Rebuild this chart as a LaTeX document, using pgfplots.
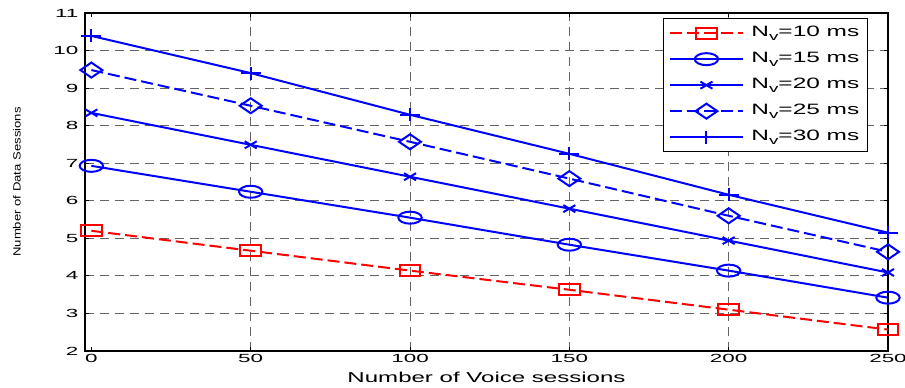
\documentclass[border=0pt]{standalone}
\usepackage{fontspec}
\setmainfont{Liberation Sans}
\usepackage{graphicx}
\usepackage{pgfplots}
\pgfplotsset{compat=1.18}
\usetikzlibrary{calc}
\definecolor{gridgray}{RGB}{100,100,100}
\newcommand{\legtxt}[1]{\hspace{5pt}\scalebox{1.63}[1]{N\raisebox{-0.45ex}{\fontsize{11.5}{11.5}\selectfont v}=#1 ms}}
\begin{document}
\begin{tikzpicture}
\begin{axis}[
  scale only axis, width=803pt, height=338pt,
  xmin=-2, xmax=250, ymin=2, ymax=11,
  xtick={50,100,150,200,250}, ytick={2,3,...,11},
  extra x ticks={0}, extra x tick style={grid=none},
  grid=major,
  major grid style={dash pattern=on 9pt off 6pt, gridgray, line width=0.9pt},
  tick align=inside, tick pos=both, major tick length=4pt,
  every tick/.style={black, line width=0.9pt},
  axis line style={line width=1.2pt},
  clip=false,
  /pgf/number format/assume math mode=true,
  tick label style={font=\fontsize{11.8}{12}\selectfont, xscale=1.9},
  xlabel={Number of Voice sessions},
  xlabel style={font=\fontsize{14.4}{15}\selectfont, xscale=1.67, at={(axis description cs:0.5,-0.077)}, anchor=center},
  ylabel={Number of Data Sessions},
  ylabel style={font=\fontsize{10.5}{10}\selectfont, at={(axis description cs:-0.0847,0.5)}, anchor=center, xscale=1.25},
  legend style={at={(axis description cs:0.975,0.985)}, anchor=north east, draw=black, line width=1.2pt,
    font=\fontsize{15}{15}\selectfont, row sep=7pt, inner xsep=6pt, inner ysep=5pt,
    nodes={text height=11pt, text depth=4pt}},
  legend cell align=left,
  legend image code/.code={\draw[mark repeat=2, mark phase=2, #1] plot coordinates {(0pt,0pt)(36pt,0pt)(73pt,0pt)};},
]
\addplot[red, line width=2pt, dash pattern=on 12pt off 5pt, mark=square, mark size=5.5pt, mark options={solid, xscale=1.9}]
  coordinates {(0,5.20)(50,4.67)(100,4.14)(150,3.63)(200,3.10)(250,2.57)};
\addlegendentry{\legtxt{10}}
\addplot[blue, line width=2pt, mark=o, mark size=6pt, mark options={solid, xscale=1.95}]
  coordinates {(0,6.93)(50,6.24)(100,5.55)(150,4.83)(200,4.14)(250,3.42)};
\addlegendentry{\legtxt{15}}
\addplot[blue, line width=2pt, mark=x, mark size=5pt, mark options={solid, xscale=1.7}]
  coordinates {(0,8.34)(50,7.49)(100,6.64)(150,5.79)(200,4.94)(250,4.09)};
\addlegendentry{\legtxt{20}}
\addplot[blue, line width=2pt, dash pattern=on 12pt off 5pt, mark=diamond, mark size=7.5pt, mark options={solid, xscale=1.95}]
  coordinates {(0,9.48)(50,8.53)(100,7.57)(150,6.59)(200,5.60)(250,4.64)};
\addlegendentry{\legtxt{25}}
\addplot[blue, line width=2pt, mark=+, mark size=6.5pt, mark options={solid, xscale=1.55}]
  coordinates {(0,10.39)(50,9.40)(100,8.29)(150,7.25)(200,6.16)(250,5.15)};
\addlegendentry{\legtxt{30}}
\end{axis}
\pgfresetboundingbox
\path ($(current axis.south west)+(-85pt,-37pt)$) rectangle ($(current axis.north east)+(17pt,13pt)$);
\end{tikzpicture}
\end{document}
